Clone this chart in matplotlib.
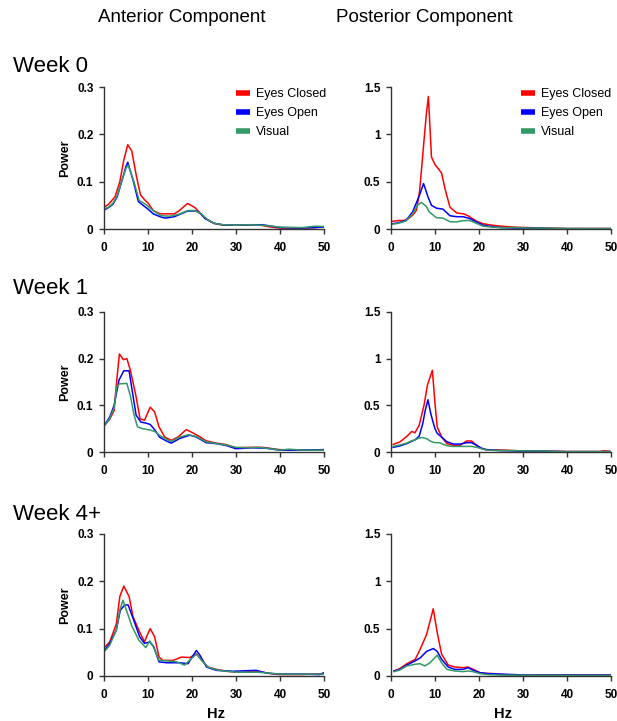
import matplotlib
matplotlib.use('Agg')
import matplotlib.pyplot as plt

plt.rcParams['font.family'] = ['Liberation Sans', 'DejaVu Sans']

# ---------------- text / categories ----------------
weeks = ['Week 0', 'Week 1', 'Week 4+']
components = ['Anterior Component', 'Posterior Component']
conditions = ['Eyes Closed', 'Eyes Open', 'Visual']
colors = ['#ff0000', '#0000ff', '#339966']

x_ticks = [0, 10, 20, 30, 40, 50]
ant_yticks = [0, 0.1, 0.2, 0.3]
ant_yticklabels = ['0', '0.1', '0.2', '0.3']
post_yticks = [0, 0.5, 1, 1.5]
post_yticklabels = ['0', '0.5', '1', '1.5']

# ---------------- Week 0, anterior ----------------
w0_ant_closed_hz = [0, 1, 2.5, 3.6, 4.5, 5.4, 6.3, 7.4, 8.3, 9.3, 10, 11.2, 12.7, 16, 17, 19, 20.7, 23, 25, 27, 30, 32, 35, 38, 40, 45, 48, 50]
w0_ant_closed = [0.046, 0.052, 0.068, 0.10, 0.146, 0.178, 0.165, 0.11, 0.072, 0.061, 0.055, 0.039, 0.032, 0.032, 0.038, 0.054, 0.045, 0.022, 0.012, 0.008, 0.008, 0.008, 0.009, 0.004, 0.002, 0.002, 0.003, 0.005]
w0_ant_open_hz = [0, 1, 2, 3, 4, 5, 5.4, 6.7, 7.8, 8.6, 9.3, 10, 11.2, 13, 14, 16, 17, 19, 21, 22, 23, 25, 27, 30, 33, 36, 38, 40, 45, 50]
w0_ant_open = [0.040, 0.045, 0.052, 0.068, 0.10, 0.132, 0.141, 0.10, 0.058, 0.052, 0.047, 0.042, 0.032, 0.025, 0.023, 0.026, 0.030, 0.038, 0.038, 0.032, 0.022, 0.012, 0.009, 0.008, 0.009, 0.009, 0.006, 0.003, 0.002, 0.004]
w0_ant_visual_hz = [0, 1, 2, 3, 4, 5, 5.5, 6.8, 8, 8.6, 9.5, 11, 13, 15, 17, 19, 20.5, 22, 23.5, 25, 27, 30, 33, 36, 40, 45, 48, 50]
w0_ant_visual = [0.042, 0.046, 0.054, 0.070, 0.10, 0.128, 0.135, 0.10, 0.060, 0.057, 0.052, 0.040, 0.028, 0.027, 0.031, 0.039, 0.039, 0.033, 0.020, 0.012, 0.009, 0.008, 0.009, 0.008, 0.004, 0.003, 0.006, 0.005]

# ---------------- Week 0, posterior ----------------
w0_post_closed_hz = [0, 1, 2, 3, 4, 5, 5.8, 6.5, 7.1, 8.0, 8.5, 9.2, 10, 10.7, 11.5, 12.3, 13.4, 14.9, 16.5, 17.5, 18.5, 19.5, 21, 23, 25, 28, 31, 35, 40, 45, 50]
w0_post_closed = [0.08, 0.085, 0.09, 0.09, 0.11, 0.15, 0.20, 0.40, 0.72, 1.2, 1.4, 0.76, 0.68, 0.64, 0.59, 0.42, 0.23, 0.17, 0.16, 0.14, 0.11, 0.08, 0.055, 0.04, 0.03, 0.02, 0.015, 0.01, 0.005, 0.005, 0.005]
w0_post_open_hz = [0, 1, 2, 3.4, 4.9, 6.5, 7.4, 8.4, 9.2, 10.3, 11.8, 13.4, 14.9, 16.4, 17.9, 19.4, 20.9, 23, 25, 28, 31, 35, 40, 45, 50]
w0_post_open = [0.055, 0.06, 0.07, 0.09, 0.18, 0.36, 0.48, 0.34, 0.25, 0.22, 0.21, 0.14, 0.13, 0.13, 0.11, 0.075, 0.04, 0.025, 0.015, 0.01, 0.008, 0.006, 0.004, 0.004, 0.004]
w0_post_visual_hz = [0, 1, 2, 3.4, 4.9, 6.0, 6.9, 8.0, 8.7, 10.3, 11.8, 13.4, 14.9, 16.4, 17.9, 19.4, 20.9, 23, 25, 28, 31, 35, 40, 45, 50]
w0_post_visual = [0.05, 0.055, 0.065, 0.085, 0.16, 0.25, 0.28, 0.24, 0.18, 0.12, 0.115, 0.077, 0.075, 0.088, 0.09, 0.06, 0.03, 0.02, 0.015, 0.015, 0.01, 0.01, 0.005, 0.004, 0.004]

# ---------------- Week 1, anterior ----------------
w1_ant_closed_hz = [0.3, 1.3, 2.3, 2.9, 3.5, 4.4, 5.2, 6.0, 7.3, 8.2, 9.2, 10.5, 11.5, 12.5, 13.8, 15.3, 16.8, 18.7, 20.2, 21.7, 23.2, 25.5, 27.7, 30, 33, 36, 40, 45, 50]
w1_ant_closed = [0.06, 0.07, 0.089, 0.154, 0.21, 0.198, 0.20, 0.175, 0.118, 0.071, 0.068, 0.096, 0.086, 0.054, 0.032, 0.025, 0.032, 0.048, 0.041, 0.033, 0.024, 0.019, 0.016, 0.009, 0.010, 0.010, 0.005, 0.004, 0.005]
w1_ant_open_hz = [0.3, 1.3, 2.3, 3.4, 4.5, 5.7, 6.4, 7.3, 8.4, 9.5, 10.5, 11.5, 12.6, 14.1, 15.3, 17.2, 19.5, 21, 23.2, 25.5, 27.7, 30, 33.8, 36.9, 39.9, 45, 50]
w1_ant_open = [0.06, 0.075, 0.10, 0.154, 0.174, 0.174, 0.132, 0.079, 0.064, 0.062, 0.059, 0.048, 0.032, 0.024, 0.019, 0.029, 0.036, 0.032, 0.020, 0.018, 0.014, 0.007, 0.009, 0.008, 0.004, 0.004, 0.005]
w1_ant_visual_hz = [0.3, 1.3, 2.3, 2.9, 3.5, 5.2, 6.0, 6.8, 7.6, 8.7, 10.5, 11.5, 12.6, 14.1, 15.3, 17.2, 19.2, 21, 23.2, 25.5, 27.7, 30, 33, 35, 38, 40, 42, 45, 50]
w1_ant_visual = [0.058, 0.072, 0.095, 0.14, 0.146, 0.147, 0.12, 0.081, 0.054, 0.050, 0.047, 0.044, 0.036, 0.027, 0.023, 0.032, 0.037, 0.033, 0.022, 0.018, 0.015, 0.010, 0.009, 0.010, 0.007, 0.004, 0.006, 0.004, 0.004]

# ---------------- Week 1, posterior ----------------
w1_post_closed_hz = [0.5, 2.0, 3.6, 4.7, 5.45, 6.4, 7.5, 8.3, 9.4, 10.0, 10.5, 11.5, 12.7, 14.2, 15.7, 17.2, 18.3, 19.5, 20.6, 21.7, 25, 26, 30, 35, 40, 45, 47.5, 48.3, 49.5, 50]
w1_post_closed = [0.082, 0.107, 0.168, 0.22, 0.207, 0.286, 0.50, 0.72, 0.875, 0.52, 0.27, 0.16, 0.09, 0.071, 0.071, 0.118, 0.118, 0.071, 0.036, 0.025, 0.02, 0.02, 0.01, 0.01, 0.005, 0.005, 0.005, 0.012, 0.01, 0.005]
w1_post_open_hz = [0.5, 2.0, 3.6, 4.7, 5.45, 6.4, 7.2, 7.8, 8.4, 9.0, 9.5, 10.0, 10.5, 11.5, 12.7, 14.2, 15.7, 17.2, 18.3, 19.5, 20.6, 21.7, 25, 28, 30, 35, 40, 45, 50]
w1_post_open = [0.05, 0.065, 0.09, 0.115, 0.13, 0.17, 0.30, 0.45, 0.56, 0.42, 0.33, 0.25, 0.20, 0.16, 0.11, 0.085, 0.085, 0.10, 0.10, 0.07, 0.04, 0.025, 0.015, 0.012, 0.01, 0.008, 0.004, 0.004, 0.004]
w1_post_visual_hz = [0.5, 2.0, 3.6, 4.7, 5.45, 6.4, 7.2, 8.2, 9.0, 10.0, 11.0, 12.0, 13.0, 14.2, 16.0, 18.3, 19.5, 20.6, 21.7, 25, 28, 30, 36, 37, 40, 50]
w1_post_visual = [0.06, 0.075, 0.095, 0.12, 0.13, 0.15, 0.155, 0.14, 0.115, 0.10, 0.10, 0.08, 0.065, 0.06, 0.06, 0.06, 0.05, 0.035, 0.02, 0.015, 0.015, 0.012, 0.01, 0.005, 0.004, 0.004]

# ---------------- Week 4+, anterior ----------------
w4_ant_closed_hz = [0.3, 1.3, 2.8, 3.6, 4.5, 5.7, 6.6, 8.1, 9.2, 10.0, 10.5, 11.5, 12.5, 13.4, 15.7, 17.6, 19.5, 21, 22.2, 23.6, 26, 28, 30, 32, 34, 36, 38, 40, 45, 50]
w4_ant_closed = [0.062, 0.072, 0.11, 0.168, 0.19, 0.168, 0.125, 0.093, 0.072, 0.09, 0.10, 0.083, 0.040, 0.033, 0.033, 0.040, 0.039, 0.047, 0.033, 0.019, 0.013, 0.010, 0.008, 0.008, 0.010, 0.008, 0.005, 0.003, 0.003, 0.005]
w4_ant_open_hz = [0.3, 1.3, 2.8, 3.7, 4.7, 5.5, 6.6, 8.1, 9.2, 10.4, 11.3, 12.5, 14.2, 17.2, 19.1, 20.3, 21, 21.8, 23.3, 25.5, 29.3, 34.6, 37, 40, 45, 49, 50]
w4_ant_open = [0.056, 0.069, 0.097, 0.139, 0.15, 0.15, 0.122, 0.083, 0.069, 0.072, 0.062, 0.030, 0.028, 0.028, 0.026, 0.044, 0.054, 0.044, 0.019, 0.012, 0.010, 0.012, 0.006, 0.004, 0.004, 0.003, 0.007]
w4_ant_visual_hz = [0.3, 1.3, 2.8, 3.6, 4.3, 5.2, 6.4, 7.9, 9.5, 10.4, 11.3, 12.5, 14.2, 16.5, 18.3, 19.9, 21, 22.2, 23.6, 26, 30, 35, 40, 45, 50]
w4_ant_visual = [0.054, 0.065, 0.097, 0.139, 0.16, 0.136, 0.104, 0.076, 0.060, 0.074, 0.060, 0.033, 0.032, 0.030, 0.023, 0.037, 0.046, 0.033, 0.019, 0.012, 0.008, 0.008, 0.004, 0.004, 0.004]

# ---------------- Week 4+, posterior ----------------
w4_post_closed_hz = [0.7, 2.0, 3.6, 5.5, 6.6, 8.1, 9.6, 10.5, 11.5, 13.0, 14.5, 16.4, 17.5, 18.7, 20.2, 21.7, 23.2, 25, 30, 40, 50]
w4_post_closed = [0.053, 0.078, 0.13, 0.176, 0.28, 0.44, 0.71, 0.46, 0.23, 0.116, 0.095, 0.088, 0.095, 0.07, 0.035, 0.028, 0.025, 0.015, 0.01, 0.01, 0.01]
w4_post_open_hz = [0.7, 2.0, 3.6, 5.5, 6.6, 8.1, 9.6, 10.5, 11.5, 13.0, 14.5, 16.4, 17.5, 18.7, 20.2, 22, 25, 28, 30, 40, 50]
w4_post_open = [0.053, 0.07, 0.116, 0.16, 0.19, 0.26, 0.29, 0.26, 0.176, 0.095, 0.07, 0.07, 0.088, 0.06, 0.035, 0.025, 0.02, 0.015, 0.01, 0.01, 0.01]
w4_post_visual_hz = [0.7, 2.0, 3.6, 5.5, 6.6, 7.7, 8.9, 9.6, 10.5, 11.5, 12.7, 14.5, 16.4, 17.5, 18.7, 20.2, 22, 25, 30, 40, 50]
w4_post_visual = [0.046, 0.064, 0.106, 0.124, 0.13, 0.106, 0.14, 0.176, 0.22, 0.14, 0.07, 0.053, 0.046, 0.053, 0.046, 0.025, 0.015, 0.01, 0.008, 0.006, 0.006]

panels = {
    (0, 0): [(w0_ant_closed_hz, w0_ant_closed), (w0_ant_open_hz, w0_ant_open), (w0_ant_visual_hz, w0_ant_visual)],
    (0, 1): [(w0_post_closed_hz, w0_post_closed), (w0_post_open_hz, w0_post_open), (w0_post_visual_hz, w0_post_visual)],
    (1, 0): [(w1_ant_closed_hz, w1_ant_closed), (w1_ant_open_hz, w1_ant_open), (w1_ant_visual_hz, w1_ant_visual)],
    (1, 1): [(w1_post_closed_hz, w1_post_closed), (w1_post_open_hz, w1_post_open), (w1_post_visual_hz, w1_post_visual)],
    (2, 0): [(w4_ant_closed_hz, w4_ant_closed), (w4_ant_open_hz, w4_ant_open), (w4_ant_visual_hz, w4_ant_visual)],
    (2, 1): [(w4_post_closed_hz, w4_post_closed), (w4_post_open_hz, w4_post_open), (w4_post_visual_hz, w4_post_visual)],
}

# ---------------- layout (pixels of a 617x721 canvas) ----------------
W, H = 617, 721
fig = plt.figure(figsize=(W / 100, H / 100), dpi=100)
col_left = [104, 391]
col_width = 220
row_bottom = [229, 452, 676]
row_height = [142, 140, 142]
week_label_y = [67, 288, 515]
title_x = [182, 424]
legend_x = [0.6, 0.591]

spine_color = '#333333'
for r in range(3):
    for c in range(2):
        ax = fig.add_axes([col_left[c] / W, 1 - row_bottom[r] / H,
                           col_width / W, row_height[r] / H])
        for (hz, p), col, lab in zip(panels[(r, c)], colors, conditions):
            ax.plot(hz, p, color=col, lw=1.1, label=lab, solid_joinstyle='round')
        ax.set_xlim(0, 50)
        if c == 0:
            ax.set_ylim(0, 0.3)
            ax.set_yticks(ant_yticks)
            ax.set_yticklabels(ant_yticklabels)
            ax.set_ylabel('Power', fontsize=9, fontweight='bold', va='center')
            ax.yaxis.set_label_coords(-0.177, 0.5)
        else:
            ax.set_ylim(0, 1.5)
            ax.set_yticks(post_yticks)
            ax.set_yticklabels(post_yticklabels)
        ax.set_xticks(x_ticks)
        ax.set_xticklabels([str(t) for t in x_ticks])
        for s in ['top', 'right']:
            ax.spines[s].set_visible(False)
        for s in ['left', 'bottom']:
            ax.spines[s].set_color(spine_color)
            ax.spines[s].set_linewidth(1.0)
        ax.tick_params(axis='both', direction='out', length=3.6, width=1.0,
                       color=spine_color, labelsize=8.5)
        ax.tick_params(axis='x', pad=5.5)
        ax.tick_params(axis='y', pad=4.0)
        for lbl in ax.get_xticklabels() + ax.get_yticklabels():
            lbl.set_fontweight('bold')
        ax.patch.set_alpha(0)
        if r == 2:
            ax.set_xlabel('Hz', fontsize=10.5, fontweight='bold', va='center')
            ax.xaxis.set_label_coords(0.51, -0.265)
        if r == 0:
            leg = ax.legend(loc='upper left', bbox_to_anchor=(legend_x[c], 0.993),
                            frameon=False, fontsize=9, handlelength=1.15,
                            handletextpad=0.45, labelspacing=0.58, borderpad=0,
                            borderaxespad=0)
            for h in leg.get_lines():
                h.set_linewidth(4)
                h.set_solid_capstyle('butt')

for c in range(2):
    fig.text(title_x[c] / W, 1 - 17 / H, components[c], fontsize=13.5,
             ha='center', va='center')
for r in range(3):
    fig.text(13 / W, 1 - week_label_y[r] / H, weeks[r], fontsize=16,
             ha='left', va='center')

fig.savefig('out.png', dpi=100)
